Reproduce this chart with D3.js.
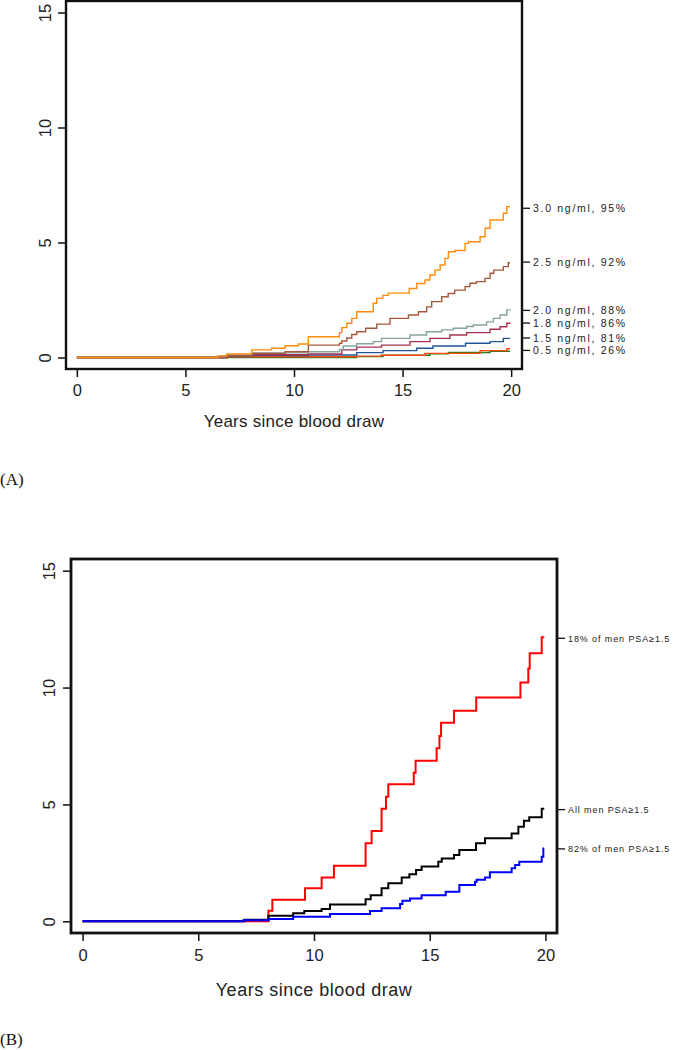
<!DOCTYPE html>
<html><head><meta charset="utf-8">
<script src="https://cdn.jsdelivr.net/npm/d3@7"></script>
<style>
body{margin:0;background:#fff;}
svg{display:block;font-family:"Liberation Sans",Arial,sans-serif;}
</style></head>
<body><svg id="c" width="673" height="1050"></svg>
<script>
// ---------- Panel A data ----------
const xTicks = [0, 5, 10, 15, 20];
const yTicks = [0, 5, 10, 15];
const xTitle = "Years since blood draw";

const a30_t = [0, 6.51, 6.90, 8.05, 8.97, 9.59, 10.20, 10.66, 12.09, 12.20, 12.43, 12.66, 12.89, 13.65, 13.81, 14.09, 14.34, 15.31, 15.65, 16.03, 16.26, 16.49, 16.73, 16.95, 17.11, 17.42, 17.88, 18.03, 18.57, 18.80, 19.03, 19.64, 19.80, 19.95];
const a30_v = [0, 0.07, 0.15, 0.33, 0.40, 0.51, 0.59, 0.90, 1.08, 1.30, 1.49, 1.70, 1.99, 2.36, 2.57, 2.70, 2.80, 3.00, 3.22, 3.37, 3.59, 3.80, 4.02, 4.31, 4.60, 4.65, 4.96, 5.03, 5.25, 5.62, 5.98, 6.27, 6.56, 6.56];
const a25_t = [0, 6.90, 8.05, 9.59, 10.66, 12.09, 12.20, 12.43, 12.66, 12.89, 13.30, 13.81, 14.42, 15.27, 15.73, 16.11, 16.34, 16.80, 17.10, 17.40, 17.88, 18.10, 18.40, 18.80, 19.03, 19.20, 19.64, 19.87, 19.95];
const a25_v = [0, 0.07, 0.18, 0.25, 0.54, 0.62, 0.72, 0.85, 1.00, 1.12, 1.27, 1.45, 1.70, 1.85, 1.99, 2.20, 2.43, 2.64, 2.78, 2.93, 3.08, 3.23, 3.30, 3.44, 3.66, 3.80, 3.95, 4.12, 4.12];
const a20_t = [0, 6.50, 6.90, 8.05, 10.66, 12.09, 12.27, 12.89, 13.65, 14.03, 15.34, 16.10, 16.80, 17.34, 17.95, 18.26, 18.87, 19.18, 19.49, 19.80, 19.95];
const a20_v = [0, 0.07, 0.12, 0.20, 0.25, 0.35, 0.50, 0.60, 0.69, 0.83, 0.98, 1.12, 1.20, 1.27, 1.35, 1.41, 1.55, 1.70, 1.85, 2.07, 2.10];
const a18_t = [0, 6.90, 8.05, 10.66, 12.20, 12.89, 14.03, 15.34, 16.26, 17.18, 17.95, 19.03, 19.49, 19.80, 19.95];
const a18_v = [0, 0.07, 0.12, 0.15, 0.33, 0.45, 0.54, 0.69, 0.83, 0.98, 1.08, 1.23, 1.34, 1.49, 1.50];
const a15_t = [0, 6.90, 8.05, 10.66, 12.89, 14.10, 15.65, 16.40, 17.90, 19.03, 19.64, 19.95];
const a15_v = [0, 0.05, 0.08, 0.11, 0.21, 0.30, 0.40, 0.50, 0.62, 0.69, 0.83, 0.83];
const a10_t = [0, 6.90, 12.89, 14.00, 16.03, 18.57, 19.80, 19.95];
const a10_v = [0, 0.03, 0.06, 0.10, 0.18, 0.30, 0.38, 0.38];
const a05_t = [0, 12.89, 14.10, 16.26, 17.11, 19.03, 19.95];
const a05_v = [0, 0.04, 0.10, 0.16, 0.22, 0.27, 0.27];

const aColors = ["#1e7b1e", "#ff4a10", "#22569a", "#a8324e", "#86a29c", "#a65a3c", "#ff8c0a"];
const aLabels = ["3.0 ng/ml, 95%", "2.5 ng/ml, 92%", "2.0 ng/ml, 88%", "1.8 ng/ml, 86%", "1.5 ng/ml, 81%", "0.5 ng/ml, 26%"];
const aLabelPos = [6.51, 4.17, 2.07, 1.52, 0.87, 0.33];

// ---------- Panel B data ----------
const bRed_t = [0, 8.03, 8.20, 9.61, 10.33, 10.86, 12.23, 12.49, 12.92, 13.11, 13.21, 14.31, 14.39, 15.30, 15.42, 15.49, 16.05, 17.01, 18.92, 19.26, 19.32, 19.84, 19.95];
const bRed_v = [0, 0.45, 0.92, 1.41, 1.87, 2.38, 3.34, 3.86, 4.82, 5.33, 5.86, 6.36, 6.87, 7.40, 7.93, 8.50, 9.01, 9.58, 10.22, 10.82, 11.47, 12.15, 12.15];
const bAll_t = [0, 7.00, 8.03, 9.10, 9.58, 10.33, 10.69, 12.23, 12.45, 12.92, 13.21, 13.79, 14.12, 14.41, 14.65, 15.37, 15.52, 16.05, 16.28, 17.00, 17.39, 18.54, 18.83, 19.07, 19.30, 19.84, 19.95];
const bAll_v = [0, 0.07, 0.24, 0.34, 0.44, 0.53, 0.72, 0.94, 1.12, 1.41, 1.63, 1.87, 2.01, 2.19, 2.34, 2.55, 2.69, 2.84, 3.05, 3.34, 3.55, 3.76, 4.05, 4.30, 4.45, 4.82, 4.82];
const bLow_t = [0, 6.95, 8.05, 9.10, 10.69, 12.42, 12.92, 13.72, 13.82, 14.15, 14.65, 15.69, 16.28, 16.96, 17.03, 17.39, 17.60, 18.54, 18.69, 18.87, 19.84, 19.91, 19.95];
const bLow_v = [0, 0.05, 0.10, 0.20, 0.31, 0.44, 0.56, 0.74, 0.88, 0.98, 1.12, 1.27, 1.55, 1.69, 1.78, 1.87, 2.10, 2.27, 2.41, 2.55, 2.76, 3.12, 3.12];
const bColors = ["#ff0000", "#000000", "#0000ff"];
const bLabels = ["18% of men PSA\u22651.5", "All men PSA\u22651.5", "82% of men PSA\u22651.5"];
const bLabelPos = [12.13, 4.80, 3.12];

const aSeries = [[a05_t, a05_v], [a10_t, a10_v], [a15_t, a15_v], [a18_t, a18_v], [a20_t, a20_v], [a25_t, a25_v], [a30_t, a30_v]];
const bSeries = [[bRed_t, bRed_v], [bAll_t, bAll_v], [bLow_t, bLow_v]];

const svg = d3.select("#c");

function panel(cfg) {
  const x = d3.scaleLinear([-0.5, 20.5], [cfg.left, cfg.right]);
  const y = d3.scaleLinear([-0.5, 15.5], [cfg.bottom, cfg.top]);
  const g = svg.append("g");
  const line = d3.line().x(d => x(d[0])).y(d => y(d[1])).curve(d3.curveStepAfter);
  cfg.series.forEach((s, i) => {
    const pts = s[0].map((t, j) => [t, s[1][j]]);
    g.append("path").attr("d", line(pts)).attr("fill", "none")
      .attr("stroke", cfg.colors[i]).attr("stroke-width", cfg.lw);
  });
  // frame
  g.append("rect").attr("x", cfg.left).attr("y", cfg.top)
    .attr("width", cfg.right - cfg.left).attr("height", cfg.bottom - cfg.top)
    .attr("fill", "none").attr("stroke", "#111").attr("stroke-width", cfg.fw);
  // x axis
  const xa = g.append("g").attr("transform", `translate(0,${cfg.bottom})`)
    .call(d3.axisBottom(x).tickValues(xTicks).tickSize(8).tickFormat(d3.format("d")));
  xa.select(".domain").remove();
  xa.selectAll("line").attr("stroke", "#111").attr("stroke-width", 1.5);
  xa.selectAll("text").attr("y", cfg.xlabY - cfg.bottom).attr("dy", "0.36em")
    .attr("font-size", cfg.tickFs).attr("fill", "#222").attr("font-family", "Liberation Sans, Arial, sans-serif");
  // y axis
  const ya = g.append("g").attr("transform", `translate(${cfg.left},0)`)
    .call(d3.axisLeft(y).tickValues(yTicks).tickSize(8).tickFormat(d3.format("d")));
  ya.select(".domain").remove();
  ya.selectAll("line").attr("stroke", "#111").attr("stroke-width", 1.5);
  ya.selectAll("text").attr("x", null).attr("dy", "0.36em")
    .attr("transform", `translate(${cfg.ylabX - cfg.left},0) rotate(-90)`)
    .attr("text-anchor", "middle")
    .attr("font-size", cfg.tickFs).attr("fill", "#222").attr("font-family", "Liberation Sans, Arial, sans-serif");
  // right labels
  const ra = g.append("g").attr("transform", `translate(${cfg.right},0)`)
    .call(d3.axisRight(y).tickValues(cfg.labelPos).tickSize(8).tickPadding(3)
      .tickFormat((d, i) => cfg.labels[i]));
  ra.select(".domain").remove();
  ra.selectAll("line").attr("stroke", "#111").attr("stroke-width", 1.3);
  ra.selectAll("text").attr("dy", "0.36em").attr("font-size", cfg.labFs)
    .attr("letter-spacing", cfg.labLs).attr("fill", "#222")
    .attr("font-family", "Liberation Sans, Arial, sans-serif");
  // title
  g.append("text").attr("x", x(10)).attr("y", cfg.titleY).attr("dy", "0.36em")
    .attr("text-anchor", "middle").attr("font-size", cfg.titleFs)
    .attr("letter-spacing", cfg.titleLs).attr("fill", "#222").text(xTitle);
  // panel letter
  g.append("text").attr("x", 0).attr("y", cfg.letterY).attr("dy", "0.3em")
    .attr("font-family", "Liberation Serif, Times New Roman, serif")
    .attr("font-size", 17).attr("fill", "#111").text(cfg.letter);
}

panel({
  left: 66, right: 522, top: 1, bottom: 369, series: aSeries, colors: aColors, lw: 1.4, fw: 2.4,
  xlabY: 390, ylabX: 45.5, tickFs: 16.5, labels: aLabels, labelPos: aLabelPos, labFs: 10.5, labLs: 1.7,
  titleY: 421, titleFs: 17, titleLs: 0.25, letter: "(A)", letterY: 480
});
panel({
  left: 71, right: 557, top: 559, bottom: 933, series: bSeries, colors: bColors, lw: 2, fw: 2.8,
  xlabY: 955, ylabX: 49, tickFs: 16.5, labels: bLabels, labelPos: bLabelPos, labFs: 9, labLs: 0.9,
  titleY: 990, titleFs: 18, titleLs: 0.5, letter: "(B)", letterY: 1040
});
</script></body></html>
